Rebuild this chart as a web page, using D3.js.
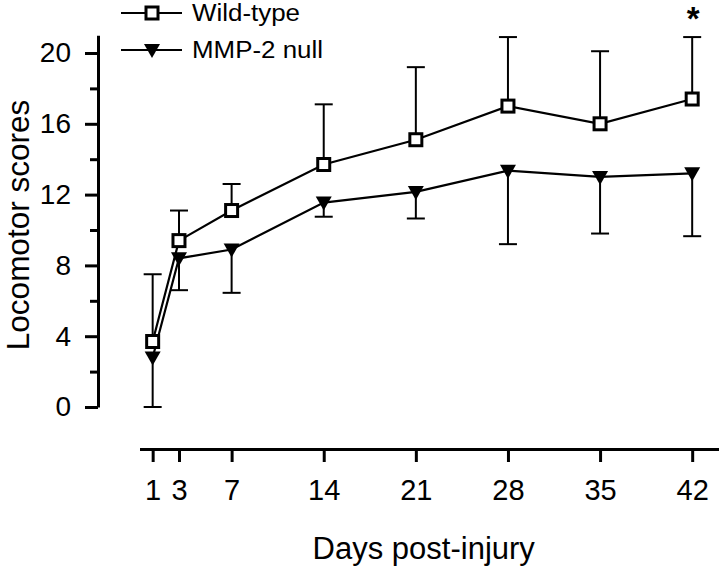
<!DOCTYPE html>
<html>
<head>
<meta charset="utf-8">
<script src="https://cdn.jsdelivr.net/npm/d3@7"></script>
<style>
  html, body { margin: 0; padding: 0; background: #fff; }
  svg { display: block; font-family: "Liberation Sans", Arial, Helvetica, sans-serif; }
</style>
</head>
<body>
<svg id="chart" width="720" height="568"></svg>
<script>
// ---- data ----
const days = [1, 3, 7, 14, 21, 28, 35, 42];
const wildTypeMean = [3.7, 9.4, 11.1, 13.7, 15.1, 17.0, 16.0, 17.4];
const wildTypeErr  = [3.8, 1.7, 1.5, 3.4, 4.1, 3.9, 4.1, 3.5];   // drawn upward
const nullMean     = [2.8, 8.4, 8.9, 11.55, 12.15, 13.35, 13.0, 13.2];
const nullErr      = [2.8, 1.8, 2.45, 0.8, 1.5, 4.15, 3.2, 3.55];  // drawn downward
const yMajorTicks  = [0, 4, 8, 12, 16, 20];
const yMinorTicks  = [2, 6, 10, 14, 18];
const seriesNames  = ["Wild-type", "MMP-2 null"];
const xTitle = "Days post-injury";
const yTitle = "Locomotor scores";
const significantDays = [42];

// ---- layout ----
const svg = d3.select("#chart");
const x = d3.scaleLinear().domain([0, 44]).range([139.5, 718.5]);
const y = d3.scaleLinear().domain([0, 21]).range([407, 35.3]);
const yAxisX = 98, xAxisY = 449;
const FONT = "Liberation Sans, Arial, sans-serif";

// y axis (major + minor)
const yAxisG = svg.append("g").attr("transform", `translate(${yAxisX},0)`)
  .call(d3.axisLeft(y).tickValues(yMajorTicks).tickSize(13).tickSizeOuter(0).tickPadding(14));
svg.append("g").attr("transform", `translate(${yAxisX},0)`)
  .call(d3.axisLeft(y).tickValues(yMinorTicks).tickSize(8).tickSizeOuter(0).tickFormat(""))
  .select(".domain").remove();
svg.selectAll("g line, g path.domain").attr("stroke", "#000").attr("stroke-width", 3);
yAxisG.selectAll("text").attr("font-size", 28).attr("fill", "#000").attr("font-family", FONT);

// x axis
const xAxisG = svg.append("g").attr("transform", `translate(0,${xAxisY})`)
  .call(d3.axisBottom(x).tickValues(days).tickSize(13).tickSizeOuter(0).tickPadding(17));
xAxisG.selectAll("line, path.domain").attr("stroke", "#000").attr("stroke-width", 3);
xAxisG.selectAll("text").attr("font-size", 29).attr("fill", "#000").attr("font-family", FONT);

// axis titles
svg.append("text").attr("x", x(21.6)).attr("y", 559)
  .attr("text-anchor", "middle").attr("font-size", 31).text(xTitle);
svg.append("text").attr("transform", `translate(18,225) rotate(-90)`)
  .attr("dy", "0.35em").attr("text-anchor", "middle").attr("font-size", 31.5).text(yTitle);

// ---- data marks ----
const wt = days.map((d, i) => ({ d, m: wildTypeMean[i], e: wildTypeErr[i] }));
const nl = days.map((d, i) => ({ d, m: nullMean[i], e: nullErr[i] }));
const capW = 9;

const line = d3.line().x(p => x(p.d)).y(p => y(p.m));

// error bars
function errorBars(data, dir) {
  const g = svg.append("g").attr("stroke", "#000").attr("stroke-width", 2);
  data.forEach(p => {
    const y2 = y(p.m + dir * p.e);
    g.append("line").attr("x1", x(p.d)).attr("x2", x(p.d)).attr("y1", y(p.m)).attr("y2", y2);
    g.append("line").attr("x1", x(p.d) - capW).attr("x2", x(p.d) + capW).attr("y1", y2).attr("y2", y2);
  });
}
errorBars(nl, -1);
errorBars(wt, 1);

// lines
svg.append("path").datum(nl).attr("d", line).attr("fill", "none").attr("stroke", "#000").attr("stroke-width", 2.2);
svg.append("path").datum(wt).attr("d", line).attr("fill", "none").attr("stroke", "#000").attr("stroke-width", 2.2);

function triangle(g, cx, cy) {
  g.append("path").attr("d", `M${cx - 8},${cy - 6}L${cx + 8},${cy - 6}L${cx},${cy + 8}Z`).attr("fill", "#000");
}
function square(g, cx, cy) {
  g.append("rect").attr("x", cx - 6).attr("y", cy - 6).attr("width", 12).attr("height", 12)
    .attr("fill", "#fff").attr("stroke", "#000").attr("stroke-width", 3);
}
const markG = svg.append("g");
nl.forEach(p => triangle(markG, x(p.d), y(p.m)));
wt.forEach(p => square(markG, x(p.d), y(p.m)));

// significance
significantDays.forEach(d => {
  svg.append("text").attr("x", x(d) + 1).attr("y", 30).attr("text-anchor", "middle")
    .attr("font-size", 33).attr("font-weight", "bold").text("*");
});

// ---- legend ----
const legend = svg.append("g");
const legendWidths = [108, 131];
[0, 1].forEach(k => {
  const ly = k === 0 ? 13 : 50;
  legend.append("line").attr("x1", 121).attr("x2", 182).attr("y1", ly).attr("y2", ly)
    .attr("stroke", "#000").attr("stroke-width", 2.2);
  if (k === 0) square(legend, 152, ly); else triangle(legend, 152, ly);
  legend.append("text").attr("x", 192).attr("y", ly + 8)
    .attr("font-size", 23)
    .attr("textLength", legendWidths[k]).attr("lengthAdjust", "spacingAndGlyphs")
    .text(seriesNames[k]);
});
</script>
</body>
</html>
